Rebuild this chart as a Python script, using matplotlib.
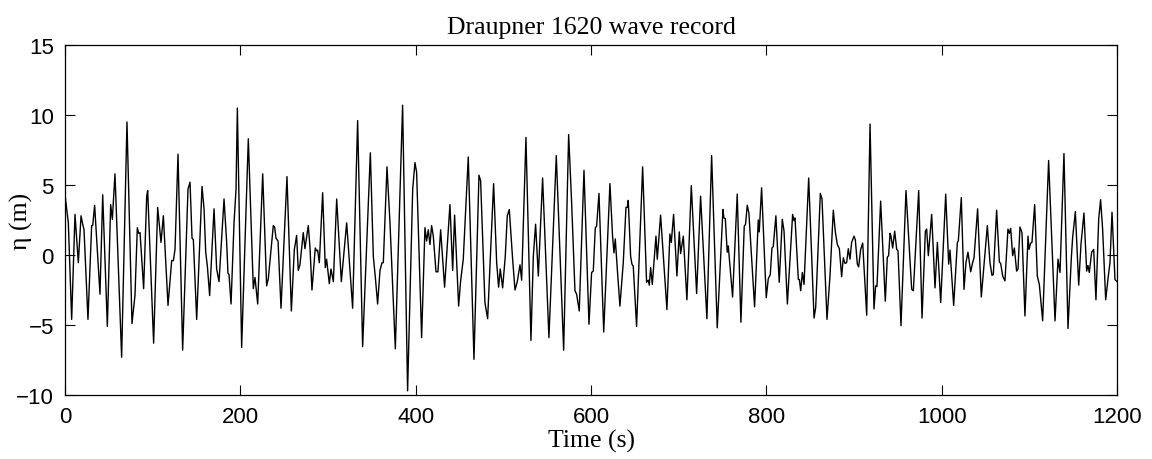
import matplotlib
matplotlib.use("Agg")
import matplotlib.pyplot as plt
import numpy as np

# Draupner 1620 wave record (time in s, elevation in m)
time_a = [0, 3.8, 7.6, 11.4, 15.2, 18.3, 20.2, 21.7, 26.2, 30.4, 31.6, 33.8, 39.9, 43.0, 48.3,
          52.1, 54.0, 57.0, 64.6, 70.7, 76.4, 79.8, 82.5, 84.0, 85.6, 89.7, 93.2, 94.3, 101.1,
          105.7, 109.5, 112.2, 117.5, 121.7, 123.6, 125.5, 128.9, 134.2, 140.3, 142.6, 144.9,
          146.4, 150.2, 156.3, 158.6, 160.5, 162.4, 165.0, 170.0, 173.0, 175.7, 181.4, 184.4,
          185.9, 187.1, 189.4, 192.8, 195.1, 196.6, 201.5]
eta_a = [4.3, 2.3, -4.6, 2.9, -0.55, 2.8, 2.2, 1.8, -4.6, 2.1, 2.1, 3.55, -2.8, 4.3, -5.1,
         3.6, 2.55, 5.8, -7.3, 9.5, -4.9, -2.9, 1.95, 1.55, 1.6, -2.4, 4.2, 4.6, -6.3,
         3.4, 0.9, 2.8, -3.6, -0.4, -0.4, 0.4, 7.2, -6.8, 4.7, 5.2, 1.2,
         1.1, -4.6, 4.9, 3.3, 0.2, -0.8, -2.9, 3.3, -1.0, -1.9, 4.0, 0.9,
         -1.3, -1.4, -3.5, 2.3, 4.7, 10.5, -6.6]

time_b = [209.1, 214.8, 216.7, 219.8, 225.5, 230.0, 231.9, 237.6, 239.1, 240.7, 243.0, 246.4,
          253.2, 258.2, 261.6, 262.7, 264.2, 266.1, 268.0, 271.8, 273.7, 277.5, 279.4, 281.7,
          285.5, 287.0, 288.2, 290.1, 293.9, 296.9, 298.4, 301.5, 303.4, 306.1, 309.9, 315.2,
          321.3, 328.1, 333.8, 339.5, 348.3, 351.7, 354.0, 356.6, 359.3, 361.6, 363.1, 367.3,
          370.7, 376.8, 385.1, 390.8, 396.6, 399.2, 401.1, 406.8]
eta_b = [8.3, -2.4, -1.6, -3.5, 5.8, -2.2, -1.7, 2.1, 2.0, 1.2, 1.0, -3.8,
         5.6, -4.0, 0.4, 0.8, 1.4, -1.1, -0.7, 1.6, 0.45, 2.1, 0.6, -2.5,
         0.5, 0.3, 0.35, -0.55, 4.45, -0.9, -0.3, -2.05, -1.0, -1.9, 4.0, -1.9,
         2.3, -3.8, 9.6, -6.55, 7.3, -0.1, -1.6, -3.5, -1.1, -0.55, -0.55, 6.3,
         2.3, -6.7, 10.7, -9.7, 4.7, 6.6, 5.9, -5.9]

time_c = [410.6, 412.5, 414.4, 416.3, 418.2, 420.1, 423.2, 425.4, 428.5, 433.0, 439.1, 442.2,
          444.4, 449.0, 451.3, 454.3, 460.0, 466.5, 472.2, 474.1, 479.0, 482.1, 488.9, 492.4,
          494.6, 496.5, 499.2, 502.2, 504.5, 506.8, 510.6, 513.3, 515.9, 519.0, 520.9, 525.8,
          531.5, 534.2, 536.8, 539.9, 544.8, 552.0, 560.4, 568.8, 574.5, 577.9, 581.7, 583.6,
          586.6, 592.0, 597.7, 600.7, 602.6, 604.9, 606.4, 609.1, 614.5]
eta_c = [1.95, 1.0, 1.8, 0.75, 2.1, 1.35, -1.2, -1.2, 1.8, -2.3, 3.6, -1.1,
         2.85, -3.65, -1.85, -0.3, 7.0, -7.45, 5.7, 5.3, -3.4, -4.55, 5.1, -0.55,
         -2.3, -1.0, -2.35, -0.1, 2.8, 3.25, -0.3, -2.5, -1.9, -0.7, -1.8, 8.4,
         -6.1, -0.1, 2.2, -1.5, 5.5, -5.9, 7.1, -6.8, 8.6, 3.75, -2.55, -2.8,
         -4.0, 6.05, -4.95, -1.25, -1.15, 1.95, 2.05, 4.4, -5.5]

time_d = [621.6, 624.6, 626.2, 627.7, 630.0, 633.0, 636.8, 639.9, 641.4, 642.5, 645.2, 646.7,
          648.2, 652.0, 658.9, 663.4, 665.3, 666.5, 668.0, 669.9, 674.1, 675.6, 679.4, 686.6,
          690.0, 691.6, 694.2, 698.0, 700.7, 702.2, 705.3, 709.4, 714.4, 720.5, 725.0, 732.2,
          737.6, 744.0, 750.5, 751.6, 753.2, 755.4, 756.6, 761.5, 766.8, 771.0, 774.8, 776.3,
          778.2, 780.1, 786.6, 790.8, 791.9, 794.6, 799.9, 802.2, 804.5, 806.4, 807.9, 810.9,
          814.7, 818.2]
eta_d = [5.1, 1.35, 0.15, 1.15, -1.0, -3.65, -0.55, 3.4, 3.4, 3.9, -0.1, -0.65,
         -0.8, -5.1, 6.3, -1.95, -1.8, -2.15, -0.9, -2.1, 1.35, -0.3, 2.85, -3.9,
         1.5, 0.9, 2.9, -1.5, 1.65, 0.1, 1.35, -3.2, 4.95, -2.75, 4.2, -4.55,
         7.1, -5.2, 3.25, 2.65, 2.6, 0.2, 0.65, -3.0, 4.35, -4.8, 2.05, 2.2,
         3.55, 3.0, -3.7, 2.5, 1.65, 4.8, -3.05, -1.7, -1.4, 0.5, 0.6, 2.8,
         -1.95, 2.55]

time_e = [820.2, 824.0, 830.0, 831.6, 832.7, 836.5, 837.7, 839.2, 841.1, 843.0, 848.3, 854.4,
          856.3, 861.6, 863.5, 869.2, 872.6, 876.4, 878.7, 881.0, 883.3, 885.9, 887.8, 889.7,
          891.6, 893.5, 895.4, 897.3, 900.0, 901.5, 903.8, 905.3, 907.6, 909.9, 914.5, 918.3,
          922.8, 924.7, 926.2, 930.4, 935.7, 938.0, 939.5, 941.1, 942.2, 944.1, 946.4, 948.7,
          950.2, 953.6, 959.3, 965.8, 967.7, 973.8, 977.6, 981.4, 982.9, 984.8, 988.6, 992.4,
          995.1, 998.9, 1004.6, 1008.0, 1009.5, 1013.7, 1017.9, 1019.0, 1022.4]
eta_e = [1.7, -3.5, 2.9, 2.45, 2.65, -1.75, -1.75, -2.55, -1.25, -2.1, 5.5, -4.5,
         -3.75, 4.4, 4.0, -4.6, -1.5, 3.2, 1.65, 0.75, 0.45, -1.55, -0.2, -0.6,
         -0.55, 0.45, -0.3, 0.9, 1.35, 1.1, -0.65, -0.85, 0.4, 0.85, -4.3, 9.35,
         -3.85, -2.2, -2.25, 3.85, -3.3, -0.15, -0.05, 1.55, 1.35, 0.5, 1.7, 0.4,
         0.3, -5.05, 4.6, -2.45, -2.55, 4.6, -4.5, 1.7, 1.85, -0.05, 2.9, -2.35,
         0.9, -3.4, 4.35, -0.65, 0.35, -3.6, 0.9, 1.0, 4.1]

time_f = [1025.5, 1027.7, 1030.0, 1033.1, 1035.3, 1036.9, 1041.0, 1045.2, 1052.1, 1055.1,
          1057.4, 1058.9, 1062.7, 1065.8, 1067.3, 1069.6, 1072.2, 1075.6, 1077.2, 1078.7,
          1081.0, 1082.9, 1085.5, 1087.1, 1089.3, 1091.6, 1095.0, 1098.5, 1099.6, 1101.5,
          1103.0, 1106.1, 1109.1, 1111.4, 1115.2, 1122.0, 1129.3, 1132.7, 1135.0, 1139.5,
          1144.1, 1147.9, 1149.4, 1152.5, 1156.3, 1158.9, 1162.3, 1165.4, 1166.9, 1168.4,
          1171.1, 1173.4, 1176.0, 1179.1, 1181.3, 1183.6, 1187.1, 1190.1, 1192.0, 1194.3,
          1197.7, 1200.0]
eta_f = [-2.45, -0.55, 0.2, -1.2, -0.55, -0.2, 3.3, -3.0, 2.1, -0.55,
         -1.45, -1.4, 3.2, -0.5, -0.6, -1.5, -1.85, 1.85, 1.55, 1.9,
         -0.05, 0.5, -1.15, -1.0, 2.0, 1.6, -4.35, 1.35, 0.4, 0.85,
         0.9, 3.6, -1.5, -2.1, -4.7, 6.75, -4.7, -0.3, -1.25, 7.25,
         -5.25, -0.2, 1.25, 3.1, -2.15, 0.75, 3.0, -1.15, -0.75, -1.25,
         0.2, 0.4, -3.2, 2.55, 3.95, 1.85, -3.2, -1.5, -0.55, 3.05,
         -1.75, -1.9]

x_ticks = [0, 200, 400, 600, 800, 1000, 1200]
y_ticks = [-10, -5, 0, 5, 10, 15]
title_text = "Draupner 1620 wave record"
xlabel_text = "Time (s)"
ylabel_text = "\u03b7 (m)"

time = np.concatenate([time_a, time_b, time_c, time_d, time_e, time_f])
eta = np.concatenate([eta_a, eta_b, eta_c, eta_d, eta_e, eta_f])

fig = plt.figure(figsize=(11.52, 4.6), dpi=100)
ax = fig.add_axes([65 / 1152, 1 - 396 / 460, 1052 / 1152, 350 / 460])
ax.plot(time, eta, color="black", linewidth=1.0)

ax.set_xlim(0, 1200)
ax.set_ylim(-10, 15)
ax.set_xticks(x_ticks)
ax.set_yticks(y_ticks)
ax.tick_params(direction="in", length=7, width=0.8, top=True, right=True,
               labelsize=16, pad=8)
for lab in ax.get_xticklabels() + ax.get_yticklabels():
    lab.set_fontfamily("Liberation Sans")
for sp in ax.spines.values():
    sp.set_linewidth(0.9)

serif = {"family": "Liberation Serif", "size": 18.5}
ax.set_title(title_text, fontdict=serif, pad=9)
ax.set_xlabel(xlabel_text, fontdict=serif, labelpad=1.5)
ax.set_ylabel(ylabel_text, fontdict=serif)
ax.yaxis.set_label_coords(-32 / 1052, 0.5)

fig.savefig("out.png", dpi=100)
